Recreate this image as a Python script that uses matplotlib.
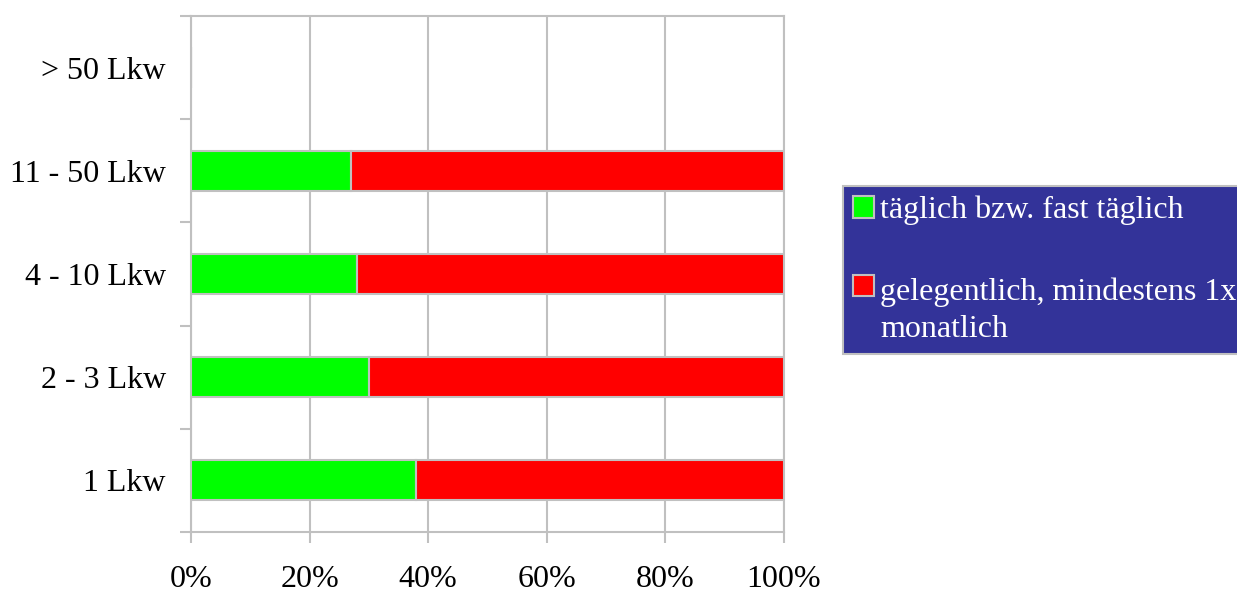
import matplotlib
matplotlib.use("Agg")
import matplotlib.pyplot as plt
from matplotlib.patches import Patch, Rectangle
from matplotlib.legend_handler import HandlerPatch
from matplotlib.ticker import FixedLocator, PercentFormatter

plt.rcParams["font.family"] = ["Liberation Serif", "DejaVu Serif"]

categories = ["1 Lkw", "2 - 3 Lkw", "4 - 10 Lkw", "11 - 50 Lkw", "> 50 Lkw"]
taeglich = [38, 30, 28, 27, 0]
gelegentlich = [62, 70, 72, 73, 0]
series_labels = ["täglich bzw. fast täglich", "gelegentlich, mindestens 1x\nmonatlich"]
colors = ["#00ff00", "#ff0000"]
GRAY = "#c0c0c0"
FS = 23

fig = plt.figure(figsize=(12.37, 5.92), dpi=100)
ax = fig.add_axes([0.1544, 0.1014, 0.4794, 0.8716])

y = list(range(len(categories)))
ax.barh(y, taeglich, height=0.39, color=colors[0], edgecolor=GRAY, linewidth=1.5, zorder=3)
ax.barh(y, gelegentlich, left=taeglich, height=0.39, color=colors[1], edgecolor=GRAY, linewidth=1.5, zorder=3)

ax.set_xlim(0, 100)
ax.set_ylim(-0.5, len(categories) - 0.5)
ax.set_xticks([0, 20, 40, 60, 80, 100])
ax.xaxis.set_major_formatter(PercentFormatter(decimals=0))
ax.set_yticks(y)
ax.set_yticklabels(categories)
ax.yaxis.set_minor_locator(FixedLocator([i - 0.5 for i in range(len(categories) + 1)]))
ax.tick_params(axis="y", which="major", length=0, pad=18, labelsize=FS)
ax.tick_params(axis="y", which="minor", length=8, width=1.5, color=GRAY)
ax.tick_params(axis="x", length=8, width=1.5, color=GRAY, pad=16, labelsize=FS)
ax.grid(True, axis="x", color=GRAY, linewidth=1.5, zorder=0)
for s in ax.spines.values():
    s.set_color(GRAY)
    s.set_linewidth(1.5)


# legend square for a two-line label sits at the first line
def top_square(legend, orig_handle, xdescent, ydescent, width, height, fontsize):
    return Rectangle((-xdescent, -ydescent + 0.78 * fontsize), width, height)


handles = [Patch(facecolor=c, edgecolor=GRAY, linewidth=1.5) for c in colors]
leg = fig.legend(handles, series_labels, loc="upper left", bbox_to_anchor=(0.6815, 0.6865),
                 frameon=True, fancybox=False, facecolor="#333399", edgecolor=GRAY,
                 framealpha=1, fontsize=FS, labelcolor="white", handlelength=0.65,
                 handleheight=0.65, handletextpad=0.2, labelspacing=1.64, borderpad=0.32,
                 borderaxespad=0,
                 handler_map={handles[1]: HandlerPatch(patch_func=top_square)})
leg.get_frame().set_linewidth(1.5)
for t in leg.get_texts():
    t.set_linespacing(1.36)

fig.savefig("out.png", dpi=100)
